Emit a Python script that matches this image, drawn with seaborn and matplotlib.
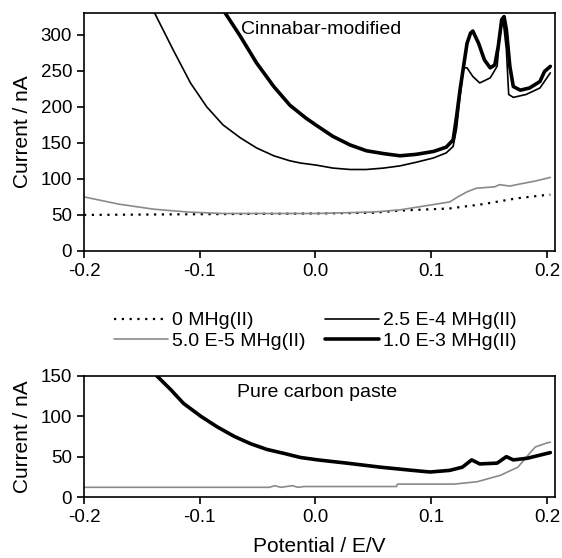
import numpy as np
import pandas as pd
import seaborn as sns
import matplotlib.pyplot as plt

# --- top panel: cinnabar-modified electrode ---
x_0m = [-0.2, -0.1, 0.0, 0.05, 0.073, 0.116, 0.145, 0.174, 0.201, 0.203]
y_0m = [50, 51, 52, 53, 56, 59, 65, 73, 78, 78]

x_5e5 = [-0.2, -0.17, -0.14, -0.11, -0.08, 0.0, 0.05, 0.073, 0.116, 0.123, 0.131,
         0.139, 0.155, 0.159, 0.168, 0.177, 0.19, 0.203]
y_5e5 = [75, 65, 58, 54, 52, 52, 54, 57, 68, 75, 82, 87, 89, 92, 90, 93, 97, 102]

x_25e4 = [-0.139, -0.123, -0.108, -0.094, -0.08, -0.065, -0.051, -0.036, -0.022,
          -0.013, 0.001, 0.015, 0.03, 0.044, 0.059, 0.073, 0.087, 0.102, 0.113,
          0.119, 0.122, 0.125, 0.128, 0.131, 0.136, 0.142, 0.151, 0.157, 0.159,
          0.162, 0.165, 0.167, 0.171, 0.182, 0.194, 0.203]
y_25e4 = [330, 279, 233, 200, 175, 157, 143, 132, 125, 122, 119, 115, 113, 113, 115,
          118, 123, 129, 136, 145, 170, 215, 254, 254, 242, 233, 240, 256, 293, 323,
          279, 217, 213, 217, 226, 247]

x_1e3 = [-0.078, -0.065, -0.051, -0.036, -0.022, -0.008, 0.001, 0.015, 0.03, 0.044,
         0.059, 0.073, 0.087, 0.102, 0.113, 0.119, 0.122, 0.125, 0.128, 0.131, 0.134,
         0.136, 0.141, 0.146, 0.151, 0.155, 0.158, 0.161, 0.163, 0.165, 0.168, 0.171,
         0.177, 0.185, 0.194, 0.198, 0.203]
y_1e3 = [330, 298, 261, 228, 202, 184, 174, 159, 147, 139, 135, 132, 134, 138, 144,
         154, 187, 224, 256, 288, 302, 305, 288, 265, 254, 258, 284, 321, 325, 307,
         256, 228, 223, 226, 235, 249, 256]

# --- bottom panel: pure carbon paste ---
xb_5e5 = [-0.2, -0.04, -0.035, -0.03, -0.02, -0.015, -0.01, 0.07, 0.071, 0.12, 0.14,
          0.16, 0.175, 0.185, 0.19, 0.2, 0.203]
yb_5e5 = [12, 12, 14, 12, 14, 12, 13, 13, 16, 16, 19, 27, 37, 54, 62, 67, 68]

xb_1e3 = [-0.137, -0.125, -0.114, -0.099, -0.085, -0.07, -0.056, -0.042, -0.027,
          -0.013, 0.002, 0.027, 0.056, 0.084, 0.099, 0.116, 0.127, 0.135, 0.142,
          0.157, 0.165, 0.171, 0.183, 0.2, 0.203]
yb_1e3 = [150, 133, 116, 100, 87, 75, 66, 59, 54, 49, 46, 42, 37, 33, 31, 33, 37, 46,
          41, 42, 50, 46, 48, 54, 55]

labels = ['0 MHg(II)', '5.0 E-5 MHg(II)', '2.5 E-4 MHg(II)', '1.0 E-3 MHg(II)']

sns.set_style('ticks')
plt.rcParams['font.family'] = ['Liberation Sans', 'DejaVu Sans']
plt.rcParams['axes.linewidth'] = 1.2
plt.rcParams['text.color'] = 'black'
plt.rcParams['axes.labelcolor'] = 'black'

fig = plt.figure(figsize=(5.62, 5.58), dpi=100)
ax1 = fig.add_axes([0.1495, 0.5502, 0.838, 0.4265])
ax2 = fig.add_axes([0.1495, 0.1093, 0.838, 0.2169])

styles = [dict(color='black', lw=1.6, ls=(0, (1, 2.5))),
          dict(color='#8a8a8a', lw=1.2, ls='-'),
          dict(color='black', lw=1.2, ls='-'),
          dict(color='black', lw=2.6, ls='-')]

top = [(x_0m, y_0m), (x_5e5, y_5e5), (x_25e4, y_25e4), (x_1e3, y_1e3)]
for (xs, ys), st, lab in zip(top, styles, labels):
    sns.lineplot(x=xs, y=ys, ax=ax1, color=st['color'], linewidth=st['lw'],
                 linestyle=st['ls'], label=lab, estimator=None, legend=False)

sns.lineplot(x=xb_5e5, y=yb_5e5, ax=ax2, color=styles[1]['color'], linewidth=1.2,
             estimator=None, legend=False)
sns.lineplot(x=xb_1e3, y=yb_1e3, ax=ax2, color='black', linewidth=2.6,
             estimator=None, legend=False)

for ax in (ax1, ax2):
    ax.set_xlim(-0.2, 0.207)
    ax.set_xticks([-0.2, -0.1, 0.0, 0.1, 0.2])
    ax.set_xticklabels(['-0.2', '-0.1', '0.0', '0.1', '0.2'])
    ax.tick_params(direction='out', length=5, width=1.2, labelsize=13.5, colors='black')
    for s in ax.spines.values():
        s.set_visible(True)
        s.set_color('black')
    ax.set_ylabel('Current / nA', fontsize=15)

ax1.set_ylim(0, 330)
ax1.set_yticks(range(0, 301, 50))
ax2.set_ylim(0, 150)
ax2.set_yticks([0, 50, 100, 150])
ax1.yaxis.set_label_coords(-0.11, 0.5)
ax2.yaxis.set_label_coords(-0.11, 0.5)
ax2.set_xlabel('Potential / E/V', fontsize=15, labelpad=8)

ax1.text(-0.064, 307, 'Cinnabar-modified', fontsize=14, va='center')
ax2.text(-0.068, 130, 'Pure carbon paste', fontsize=14, va='center')

handles = ax1.get_lines()[:4]
fig.legend(handles, labels, loc='center', bbox_to_anchor=(0.561, 0.407), ncol=2,
           frameon=False, fontsize=14, handlelength=2.8, handletextpad=0.2,
           columnspacing=1.0, labelspacing=0.15)

fig.savefig('out.png', dpi=100)
